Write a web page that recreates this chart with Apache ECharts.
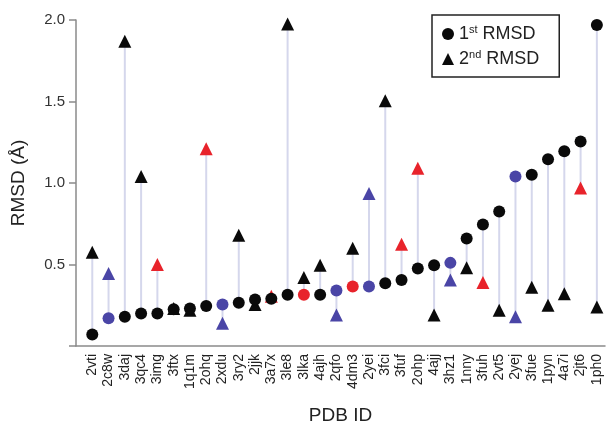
<!DOCTYPE html>
<html>
<head>
<meta charset="utf-8">
<script src="https://cdn.jsdelivr.net/npm/echarts@6/dist/echarts.min.js"></script>
<style>html,body{margin:0;padding:0;background:#fff}#c{width:608px;height:430px}</style>
</head>
<body>
<div id="c"></div>
<script>
const pdbIds = ['2vti','2c8w','3daj','3qc4','3img','3ftx','1q1m','2ohq','2xdu','3ry2','2jjk','3a7x','3le8','3lka','4ajh','2qfo','4dm3','2yei','3fci','3fuf','2ohp','4ajj','3hz1','1nny','3fuh','2vt5','2yej','3fue','1pyn','4a7i','2jt6','1ph0'];
const rmsd1 = [0.07,0.17,0.18,0.20,0.20,0.225,0.23,0.245,0.255,0.265,0.285,0.29,0.315,0.315,0.315,0.34,0.365,0.365,0.385,0.405,0.475,0.495,0.51,0.66,0.745,0.825,1.04,1.05,1.145,1.195,1.255,1.97];
const rmsd2 = [0.575,0.445,1.87,1.04,0.50,0.23,0.22,1.21,0.14,0.68,0.255,0.305,1.975,0.42,0.495,0.19,0.60,0.935,1.505,0.625,1.09,0.19,0.405,0.48,0.39,0.22,0.18,0.36,0.25,0.32,0.97,0.24];
const color1 = ['k','b','k','k','k','k','k','k','b','k','k','k','k','r','k','b','r','b','k','k','k','k','b','k','k','k','b','k','k','k','k','k'];
const color2 = ['k','b','k','k','r','k','k','r','b','k','k','r','k','k','k','b','k','b','k','r','r','k','b','k','r','k','b','k','k','k','r','k'];
const yTicks = [0, 0.5, 1.0, 1.5, 2.0];

const palette = {k:'#0a0a0a', b:'#4a45a6', r:'#e8232b'};
const FONT = 'Liberation Sans, Arial, sans-serif';
const chart = echarts.init(document.getElementById('c'));
const circles = rmsd1.map((v,i)=>({value:[i,v], itemStyle:{color:palette[color1[i]]}}));
const tris = rmsd2.map((v,i)=>({value:[i,v], itemStyle:{color:palette[color2[i]]}}));
const stems = rmsd1.map((v,i)=>[i,v,rmsd2[i]]);

chart.setOption({
  animation:false,
  grid:{left:76,right:3,top:20,bottom:84},
  legend:{
    left:432, top:15, orient:'vertical',
    borderColor:'#222', borderWidth:1.5, padding:[9,20,9,10],
    itemWidth:12, itemHeight:12, itemGap:6,
    data:[{name:'first', icon:'circle'},{name:'second', icon:'triangle'}],
    formatter: n => n==='first' ? '{a|1}{s|st}{a| RMSD}' : '{a|2}{s|nd}{a| RMSD}',
    textStyle:{color:'#222', fontFamily:FONT,
      rich:{a:{fontSize:18,lineHeight:20,color:'#222',fontFamily:FONT},
            s:{fontSize:11,lineHeight:11,verticalAlign:'top',color:'#222',fontFamily:FONT}}}
  },
  xAxis:{
    type:'value', min:-1, max:31.5, interval:1,
    name:'PDB ID', nameLocation:'middle', nameGap:60,
    nameTextStyle:{fontSize:19,color:'#222',fontFamily:FONT},
    splitLine:{show:false}, axisTick:{show:false},
    axisLine:{onZero:false, lineStyle:{color:'#8a8a8a',width:1.5}},
    axisLabel:{rotate:90, fontSize:14, color:'#222', margin:8, fontFamily:FONT,
      formatter: v => (Number.isInteger(v) && v>=0 && v<pdbIds.length) ? pdbIds[v] : ''}
  },
  yAxis:{
    type:'value', min:yTicks[0], max:yTicks[yTicks.length-1], interval:0.5,
    name:'RMSD (Å)', nameLocation:'middle', nameGap:48,
    nameTextStyle:{fontSize:19,color:'#222',fontFamily:FONT},
    splitLine:{show:false},
    axisLine:{show:true, onZero:false, lineStyle:{color:'#8a8a8a',width:1.5}},
    axisTick:{show:true, length:7, lineStyle:{color:'#8a8a8a',width:1.5}},
    axisLabel:{fontSize:15, color:'#333', margin:11, fontFamily:FONT,
      formatter: v => v===0 ? '' : v.toFixed(1)}
  },
  series:[
    {type:'custom', name:'stems', silent:true, z:1,
     renderItem:(params, api)=>{
       const a = api.coord([api.value(0), api.value(1)]);
       const b = api.coord([api.value(0), api.value(2)]);
       return {type:'line', shape:{x1:a[0],y1:a[1],x2:b[0],y2:b[1]}, style:{stroke:'#d5d7ec', lineWidth:2}};
     },
     encode:{x:0,y:[1,2]}, data:stems},
    {type:'scatter', name:'second', symbol:'triangle', symbolSize:13, z:3, itemStyle:{color:'#0a0a0a', opacity:1}, data:tris},
    {type:'scatter', name:'first', symbol:'circle', symbolSize:12, z:4, itemStyle:{color:'#0a0a0a', opacity:1}, data:circles}
  ]
});
</script>
</body>
</html>
